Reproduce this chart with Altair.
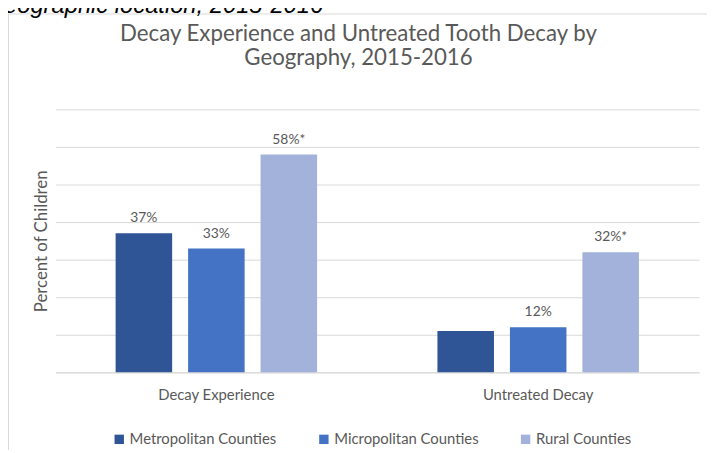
import altair as alt
import pandas as pd

groups = ["Decay Experience", "Untreated Decay"]
series = ["Metropolitan Counties", "Micropolitan Counties", "Rural Counties"]
decay_experience = [37, 33, 58]
untreated_decay = [11, 12, 32]
labels_experience = ["37%", "33%", "58%*"]
labels_untreated = ["", "12%", "32%*"]
colors = ["#2f5597", "#4472c4", "#a3b2da"]
y_ticks = [0, 10, 20, 30, 40, 50, 60, 70]
heading = ["Decay Experience and Untreated Tooth Decay by", "Geography, 2015-2016"]
caption = ["eographic location, 2015-2016"]

rows = []
for s, v, l in zip(series, decay_experience, labels_experience):
    rows.append({"group": groups[0], "series": s, "value": v, "label": l})
for s, v, l in zip(series, untreated_decay, labels_untreated):
    rows.append({"group": groups[1], "series": s, "value": v, "label": l})
df = pd.DataFrame(rows)

FONT = "Lato"
GRAY = "#595959"

x_enc = alt.X(
    "group:N",
    sort=groups,
    scale=alt.Scale(paddingInner=0, paddingOuter=0),
    axis=alt.Axis(
        title=None, labelAngle=0, ticks=False, tickSize=0, domain=True,
        domainColor="#d9d9d9", labelPadding=15, labelFontSize=15,
        labelColor=GRAY, labelFont=FONT, grid=False,
    ),
)
xo_enc = alt.XOffset("series:N", sort=series,
                     scale=alt.Scale(paddingInner=0.22, paddingOuter=0.83))
y_enc = alt.Y(
    "value:Q",
    scale=alt.Scale(domain=[0, 70], nice=False),
    axis=alt.Axis(
        values=y_ticks, labels=False, ticks=False, domain=False,
        grid=True, gridColor="#d9d9d9", title="Percent of Children",
        titleFontSize=17, titleFont=FONT, titleColor=GRAY,
        titleFontWeight="normal", titlePadding=5, minExtent=0,
    ),
)

base = alt.Chart(df).encode(x=x_enc, xOffset=xo_enc, y=y_enc)

bars = base.mark_bar().encode(
    color=alt.Color(
        "series:N", sort=series,
        scale=alt.Scale(domain=series, range=colors),
        legend=alt.Legend(
            title=None, orient="none", direction="horizontal",
            legendX=57, legendY=326, symbolType="square", symbolSize=90,
            symbolStrokeWidth=0, labelFontSize=15, labelFont=FONT,
            labelColor=GRAY, labelOffset=3, columnPadding=40, padding=0,
        ),
    ),
)

texts = base.mark_text(
    dy=-11, baseline="alphabetic", fontSize=14, font=FONT, color=GRAY
).encode(text="label:N")

frame_data = alt.Data(values=[{"k": 1}])
frame_top = alt.Chart(frame_data).mark_rule(
    stroke="#d9d9d9", strokeWidth=1
).encode(x=alt.value(-48), x2=alt.value(670), y=alt.value(-96.5))
frame_left = alt.Chart(frame_data).mark_rule(
    stroke="#d9d9d9", strokeWidth=1
).encode(x=alt.value(-47.5), y=alt.value(-96.5), y2=alt.value(400))

cap = alt.Chart(alt.Data(values=[{"t": c} for c in caption])).mark_text(
    align="left", baseline="alphabetic", fontSize=24, font="Liberation Sans",
    fontStyle="italic", color="#000000"
).encode(
    x=alt.value(-52), y=alt.value(-97), text="t:N"
)

chart = alt.layer(frame_top, frame_left, bars, texts, cap).properties(
    width=651,
    height=266,
    title=alt.TitleParams(
        text=heading, fontSize=22.5, font=FONT, color=GRAY, fontWeight="normal",
        anchor="middle", dx=-19, dy=76, lineHeight=25, offset=0,
    ),
    autosize=alt.AutoSizeParams(type="none"),
    padding={"left": 48, "top": 100, "right": 8, "bottom": 76},
).configure(background="white").configure_view(stroke=None)

chart.save("out.html", embed_options={"renderer": "svg", "actions": False})
